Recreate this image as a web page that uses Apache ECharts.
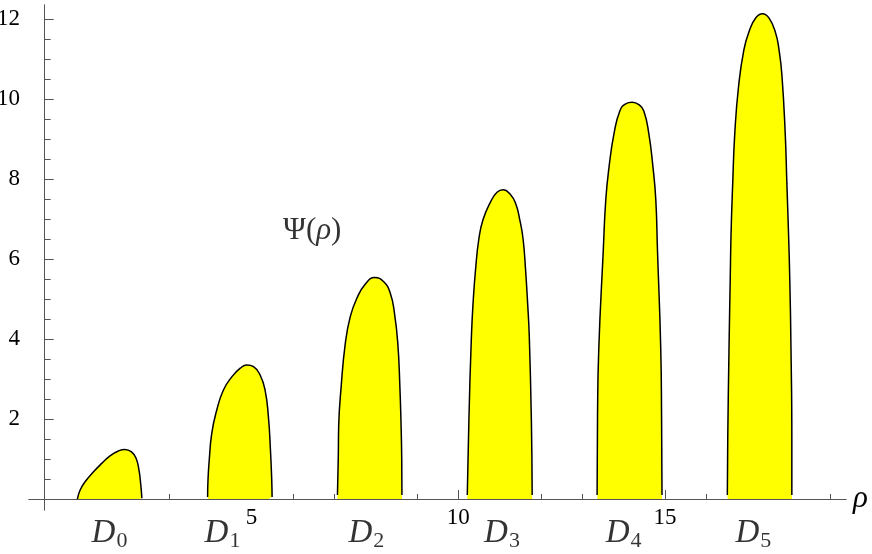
<!DOCTYPE html>
<html><head><meta charset="utf-8">
<script src="https://cdn.jsdelivr.net/npm/echarts@6/dist/echarts.min.js"></script>
<style>html,body{margin:0;padding:0;background:#fff}#c{width:872px;height:554px}</style>
</head><body><div id="c"></div>
<script>
// Region outlines Psi(rho): [rho, Psi]
const D0 = [[0.79,0],[0.855,0.22],[0.976,0.43],[1.18,0.68],[1.38,0.89],[1.58,1.08],[1.78,1.2],[1.94,1.24],[2.1,1.18],[2.21,1.02],[2.28,0.72],[2.32,0.39],[2.35,0.02]];
const D1 = [[3.94,0.05],[3.95,0.5],[3.98,0.98],[4.04,1.64],[4.16,2.22],[4.32,2.72],[4.53,3.06],[4.73,3.27],[4.89,3.35],[5.05,3.31],[5.21,3.1],[5.33,2.72],[5.41,2.06],[5.46,1.22],[5.49,0.5],[5.5,0.05]];
const D2 = [[7.08,0.1],[7.1,1.0],[7.11,1.81],[7.17,2.81],[7.27,3.89],[7.39,4.56],[7.55,5.02],[7.76,5.38],[7.98,5.54],[8.2,5.43],[8.36,5.14],[8.46,4.64],[8.54,3.89],[8.59,2.81],[8.62,1.81],[8.635,1.0],[8.64,0.1]];
const D3 = [[10.22,0.1],[10.26,2.0],[10.32,4.06],[10.36,4.89],[10.42,5.73],[10.5,6.5],[10.6,6.98],[10.78,7.42],[10.94,7.67],[11.09,7.73],[11.25,7.63],[11.39,7.39],[11.49,6.98],[11.57,6.5],[11.63,5.73],[11.68,4.89],[11.72,4.06],[11.77,2.0],[11.79,0.1]];
const D4 = [[13.36,0.1],[13.37,2.0],[13.4,3.73],[13.51,6.23],[13.57,7.48],[13.65,8.31],[13.77,9.14],[13.91,9.7],[14.05,9.88],[14.21,9.92],[14.37,9.86],[14.49,9.7],[14.61,9.14],[14.71,8.31],[14.78,7.48],[14.82,6.23],[14.9,3.73],[14.92,2.0],[14.93,0.1]];
const D5 = [[16.51,0.1],[16.52,1.5],[16.55,3.73],[16.58,5.5],[16.6,6.64],[16.64,7.89],[16.69,9.14],[16.78,10.3],[16.91,11.23],[17.04,11.7],[17.2,12.03],[17.36,12.13],[17.52,12.02],[17.68,11.64],[17.76,11.23],[17.83,10.6],[17.91,9.14],[17.95,7.89],[17.99,6.64],[18.02,5.5],[18.05,3.73],[18.07,1.5],[18.07,0.1]];
const regions = [D0, D1, D2, D3, D4, D5];

// Region labels D_n and their anchor positions [rho, Psi]
const regionSubscripts = ['0','1','2','3','4','5'];
const regionLabelPos = [[1.567,-0.85],[4.30,-0.85],[7.78,-0.85],[11.06,-0.85],[14.0,-0.85],[17.14,-0.85]];
const curveLabelPos = [[6.47,6.7]];

// Axis ticks
const xMajorTicks = [5,10,15];
const xMinorTicks = [1,2,3,4,6,7,8,9,11,12,13,14,16,17,18,19];
const yMajorTicks = [2,4,6,8,10,12];
const yMinorTicks = [0.5,1,1.5,2.5,3,3.5,4.5,5,5.5,6.5,7,7.5,8.5,9,9.5,10.5,11,11.5];

const X_MIN = -0.38, X_MAX = 19.38, Y_MIN = -0.275, Y_MAX = 12.35;
const FONT = 'Liberation Serif';
const AX = '#555';

const chart = echarts.init(document.getElementById('c'), null, {renderer:'canvas'});

const series = regions.map(function(d){
  return {
    type:'line', data:d, smooth:0.5, symbol:'none',
    lineStyle:{color:'#000', width:1.5},
    areaStyle:{color:'#ffff00', opacity:1},
    xAxisIndex:0, yAxisIndex:0, z:3
  };
});
series.push({
  type:'scatter', data:regionLabelPos, symbolSize:0, clip:false, silent:true,
  xAxisIndex:0, yAxisIndex:0, z:5,
  label:{show:true, position:'inside',
    formatter:function(p){ return '{d|D}{s|' + regionSubscripts[p.dataIndex] + '}'; },
    rich:{
      d:{fontFamily:FONT, fontStyle:'italic', fontSize:33, color:'#000', lineHeight:38},
      s:{fontFamily:FONT, fontSize:22, color:'#000', lineHeight:38, verticalAlign:'bottom', padding:[0,0,0,1]}
    }
  }
});
series.push({
  type:'scatter', data:curveLabelPos, symbolSize:0, clip:false, silent:true,
  xAxisIndex:0, yAxisIndex:0, z:5,
  label:{show:true, position:'inside',
    formatter:'{n|\u03A8(}{i|\u03C1}{n|)}',
    rich:{
      n:{fontFamily:FONT, fontSize:31, color:'#000'},
      i:{fontFamily:FONT, fontStyle:'italic', fontSize:31, color:'#000'}
    }
  }
});

function xAx(ticks, len, labels){
  return {
    type:'value', min:X_MIN, max:X_MAX, position:'bottom',
    axisLine:{show:true, onZero:true, lineStyle:{color:AX, width:1}},
    axisTick:{show:true, inside:true, length:len, customValues:ticks, lineStyle:{color:AX, width:1}},
    axisLabel:{show:labels, customValues:ticks, fontFamily:FONT, fontSize:23, color:'#000', margin:-4},
    splitLine:{show:false},
    name: labels ? '\u03C1' : '',
    nameLocation:'end', nameGap:7,
    nameTextStyle:{fontFamily:FONT, fontStyle:'italic', fontSize:31, color:'#000', verticalAlign:'middle', padding:[8,0,0,0]}
  };
}
function yAx(ticks, len, labels){
  return {
    type:'value', min:Y_MIN, max:Y_MAX, position:'left',
    axisLine:{show:true, onZero:true, lineStyle:{color:AX, width:1}},
    axisTick:{show:true, inside:true, length:len, customValues:ticks, lineStyle:{color:AX, width:1}},
    axisLabel:{show:labels, customValues:ticks, fontFamily:FONT, fontSize:23, color:'#000', margin:9},
    splitLine:{show:false}
  };
}

chart.setOption({
  animation:false,
  backgroundColor:'#fff',
  grid:{left:29, right:26, top:5, bottom:44, containLabel:false, outerBoundsMode:'none'},
  xAxis:[xAx(xMajorTicks,9,true), xAx(xMinorTicks,5,false)],
  yAxis:[yAx(yMajorTicks,9,true), yAx(yMinorTicks,6,false)],
  series:series
});
</script>
</body></html>
